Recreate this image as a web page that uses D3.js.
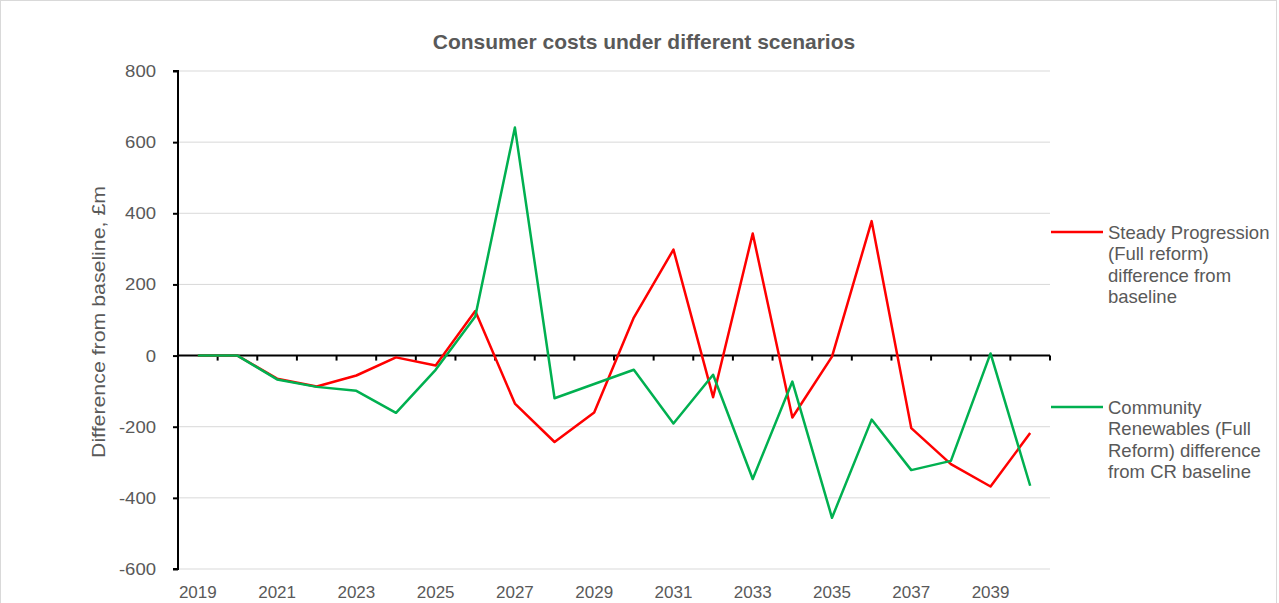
<!DOCTYPE html>
<html>
<head>
<meta charset="utf-8">
<script src="https://cdn.jsdelivr.net/npm/d3@7"></script>
<style>
  body { margin: 0; background: #fff; }
  svg { font-family: "Liberation Sans", Arial, sans-serif; }
</style>
</head>
<body>
<div id="chart"></div>
<script>
// data
var years = d3.range(2019, 2041);
var steadyProgression = [0, 0, -65, -87, -56, -5, -28, 125, -135, -243, -160, 107, 298, -117, 343, -174, -3, 378, -204, -305, -368, -218];
var communityRenewables = [0, 0, -67, -88, -99, -161, -40, 110, 641, -120, -80, -40, -191, -54, -347, -73, -456, -180, -322, -296, 6, -366];
var yTicks = [-600, -400, -200, 0, 200, 400, 600, 800];
var seriesNames = [
  ["Steady Progression", "(Full reform)", "difference from", "baseline"],
  ["Community", "Renewables (Full", "Reform) difference", "from CR baseline"]
];
var seriesColors = ["#ff0000", "#00b050"];

var W = 1279, H = 603;
var margin = {top: 71, right: 229, bottom: 34, left: 178};

var svg = d3.select("#chart").append("svg")
    .attr("width", W)
    .attr("height", H);

// outer frame
svg.append("rect")
    .attr("x", 0.5).attr("y", 0.5)
    .attr("width", W - 3).attr("height", H + 10)
    .attr("fill", "none")
    .attr("stroke", "#d9d9d9");

var x = d3.scaleBand()
    .domain(years)
    .range([margin.left, W - margin.right]);
var y = d3.scaleLinear()
    .domain([-600, 800])
    .range([H - margin.bottom, margin.top]);

// gridlines
svg.append("g")
  .selectAll("line")
  .data(yTicks)
  .enter().append("line")
    .attr("x1", margin.left)
    .attr("x2", W - margin.right)
    .attr("y1", function(d) { return y(d); })
    .attr("y2", function(d) { return y(d); })
    .attr("stroke", "#d9d9d9")
    .attr("stroke-width", 1);

// y axis
var yAxis = svg.append("g")
    .attr("transform", "translate(" + margin.left + ",0)")
    .call(d3.axisLeft(y).tickValues(yTicks).tickSize(5).tickPadding(17).tickFormat(d3.format("d")));
yAxis.select(".domain").attr("stroke", "#000").attr("stroke-width", 2).attr("d", "M-5," + y(800) + "H0V" + y(-600) + "H-5");
yAxis.selectAll(".tick line").attr("stroke", "#000").attr("stroke-width", 2);
yAxis.selectAll(".tick text")
    .attr("fill", "#595959")
    .style("font-size", "17px")
    .text(function(d) { return d < 0 ? "-" + Math.abs(d) : d; })
    .each(function() {
      this.setAttribute("textLength", this.getComputedTextLength() * 1.09);
      this.setAttribute("lengthAdjust", "spacingAndGlyphs");
    });

// x axis line at zero with ticks at band boundaries
var zero = y(0);
svg.append("line")
    .attr("x1", margin.left).attr("x2", W - margin.right)
    .attr("y1", zero).attr("y2", zero)
    .attr("stroke", "#000").attr("stroke-width", 2);
svg.append("g")
  .selectAll("line")
  .data(years)
  .enter().append("line")
    .attr("x1", function(d) { return x(d) + x.bandwidth(); })
    .attr("x2", function(d) { return x(d) + x.bandwidth(); })
    .attr("y1", zero)
    .attr("y2", zero + 5)
    .attr("stroke", "#000").attr("stroke-width", 2);

// year labels at the bottom, every other year
svg.append("g")
  .selectAll("text")
  .data(years.filter(function(d) { return (d - 2019) % 2 === 0; }))
  .enter().append("text")
    .attr("x", function(d) { return x(d) + x.bandwidth() / 2; })
    .attr("y", 598)
    .attr("text-anchor", "middle")
    .attr("fill", "#595959")
    .style("font-size", "17px")
    .text(function(d) { return d; });

// lines
var line = d3.line()
    .x(function(d, i) { return x(years[i]) + x.bandwidth() / 2; })
    .y(function(d) { return y(d); });

[steadyProgression, communityRenewables].forEach(function(values, i) {
  svg.append("path")
      .datum(values)
      .attr("d", line)
      .attr("fill", "none")
      .attr("stroke", seriesColors[i])
      .attr("stroke-width", 2.5)
      .attr("stroke-linejoin", "round");
});

// title
svg.append("text")
    .attr("x", 644)
    .attr("y", 49)
    .attr("text-anchor", "middle")
    .attr("fill", "#595959")
    .style("font-size", "21px")
    .style("font-weight", "bold")
    .text("Consumer costs under different scenarios");

// y label
svg.append("text")
    .attr("transform", "translate(105,322) rotate(-90)")
    .attr("text-anchor", "middle")
    .attr("fill", "#595959")
    .style("font-size", "19px")
    .attr("textLength", 272)
    .attr("lengthAdjust", "spacingAndGlyphs")
    .text("Difference from baseline, £m");

// legend
var legendY = [232, 407];
seriesNames.forEach(function(lines, i) {
  var g = svg.append("g").attr("transform", "translate(1051," + legendY[i] + ")");
  g.append("line")
      .attr("x1", 0).attr("x2", 52)
      .attr("stroke", seriesColors[i])
      .attr("stroke-width", 2.5);
  var t = g.append("text")
      .attr("fill", "#595959")
      .style("font-size", "18.5px");
  lines.forEach(function(s, j) {
    t.append("tspan")
        .attr("x", 57)
        .attr("y", 6.5 + j * 21.5)
        .text(s);
  });
});
</script>
</body>
</html>
